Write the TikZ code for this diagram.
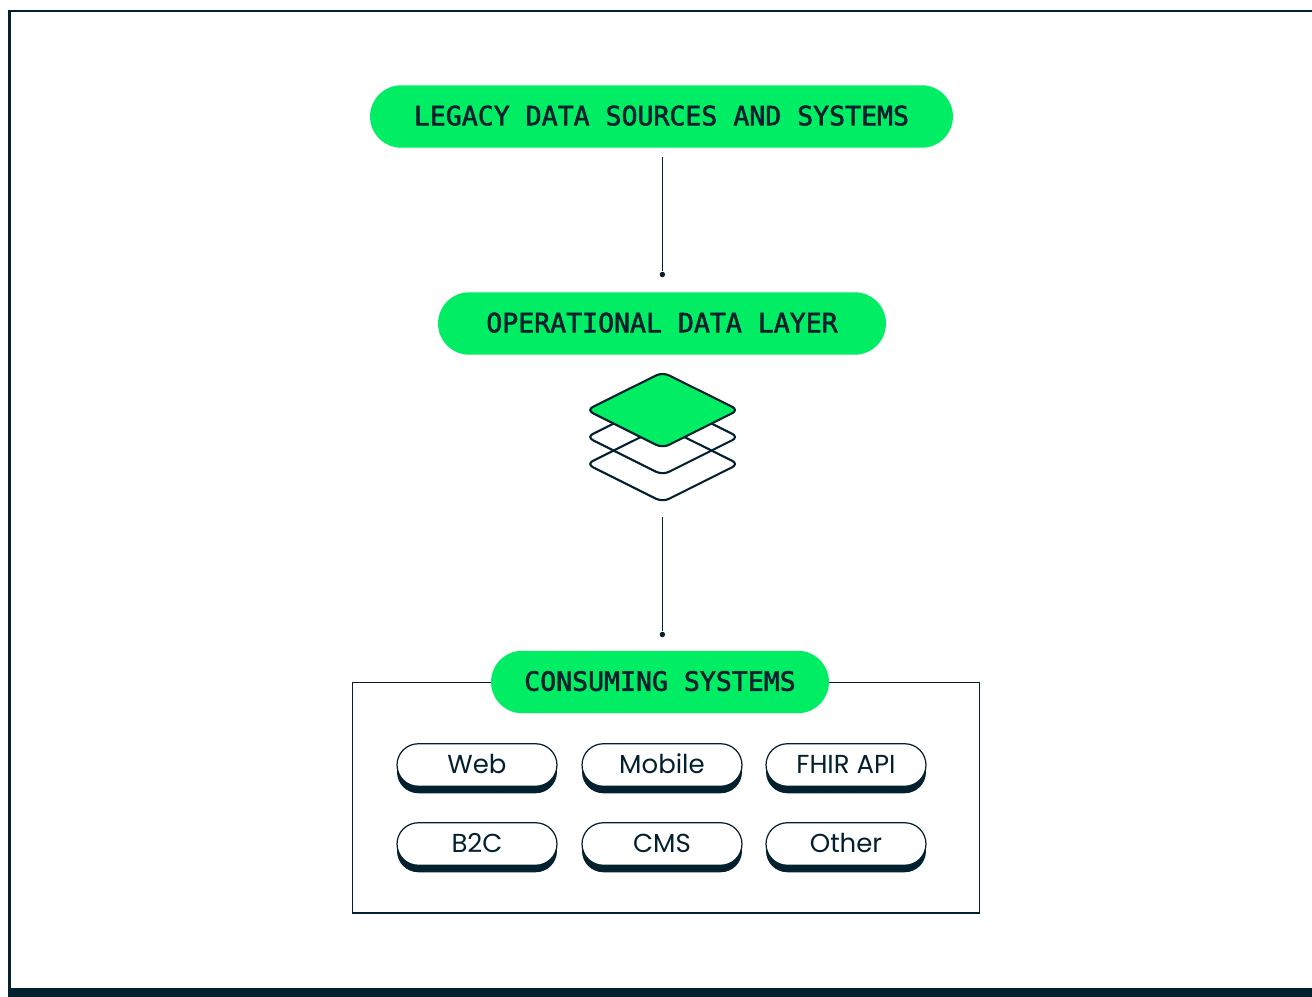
\documentclass[tikz,border=0pt]{standalone}
\usepackage{fontspec}
\setmainfont{Poppins}
\setmonofont[FakeBold=2]{DejaVu Sans Mono}
\usepackage{xcolor}
\usetikzlibrary{shapes.misc, shadows}
\definecolor{ink}{HTML}{03202F}
\definecolor{leaf}{HTML}{00ED64}
\tikzset{
  banner/.style={shape=rounded rectangle, fill=leaf, text=ink, inner sep=0pt, minimum height=1.25cm,
    text height=0.39cm, text depth=0.04cm, font=\ttfamily\fontsize{15.1}{18}\selectfont},
  chip/.style={shape=rounded rectangle, draw=ink, line width=0.7pt, fill=white, text=ink, inner sep=0pt,
    minimum width=3.2cm, minimum height=0.85cm, text height=0.365cm, text depth=0.015cm,
    font=\fontsize{14.8}{18}\selectfont,
    drop shadow={shadow xshift=0cm, shadow yshift=-0.14cm, fill=ink, opacity=1}},
  wire/.style={draw=ink, line width=0.6pt},
  tip/.style={circle, fill=ink, inner sep=0pt, minimum size=0.11cm},
  layer/.style={draw=ink, line width=1.2pt, rounded corners=0.14cm},
}
\begin{document}
\begin{tikzpicture}[x=0.02cm, y=-0.02cm]
  \useasboundingbox (0,0) rectangle (1312,997);
  % outer frame
  \draw[ink, line width=1.5pt] (1312,11) -- (9.5,11) -- (9.5,988);
  \fill[ink] (8,988) rectangle (1312,997);
  % banners
  \node [banner, minimum width=11.66cm] at (661.5,116.5) (legacy) {LEGACY DATA SOURCES AND SYSTEMS};
  \node [banner, minimum width=8.96cm] at (662,323.5) (operational) {OPERATIONAL DATA LAYER};
  \node [tip] at (662.4,274.5) (tipa) {};
  \node [tip] at (662.4,634.5) (tipb) {};
  \coordinate (stackend) at (662.4,517);
  \draw [wire, shorten <=0.18cm] (tipa |- legacy.south) -- (tipa);
  \draw [wire] (stackend) -- (tipb);
  % stack of layers
  \draw [layer] (662.6,426.2) -- (738.6,464) -- (662.6,502) -- (586.6,464) -- cycle;
  \draw [layer] (662.6,399.2) -- (738.6,437) -- (662.6,475) -- (586.6,437) -- cycle;
  \draw [layer, fill=leaf] (662.6,372.2) -- (738.6,410) -- (662.6,448) -- (586.6,410) -- cycle;
  % consuming systems
  \node [draw=ink, line width=0.6pt, minimum width=12.54cm, minimum height=4.61cm, inner sep=0pt] at (666,797.75) (panel) {};
  \node [banner, minimum width=6.76cm] at (660,682) (consuming) {CONSUMING SYSTEMS};
  \node [chip] at (477,765) (web) {Web};
  \node [chip] at (662,765) (mobile) {Mobile};
  \node [chip] at (846,765) (fhir) {FHIR API};
  \node [chip] at (477,844) (btoc) {B2C};
  \node [chip] at (662,844) (cms) {CMS};
  \node [chip] at (846,844) (other) {Other};
\end{tikzpicture}
\end{document}
